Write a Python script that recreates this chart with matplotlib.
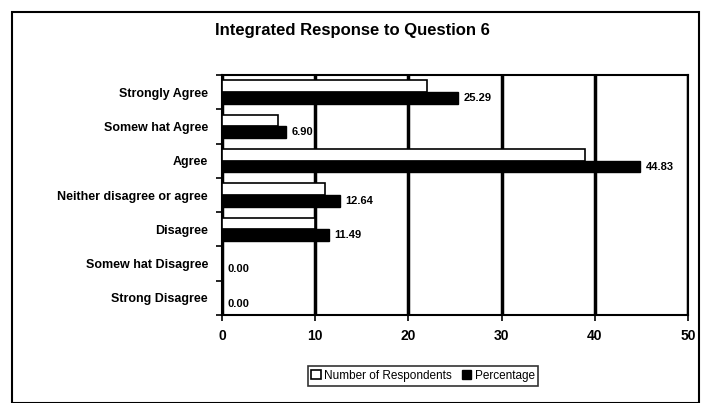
import matplotlib.pyplot as plt
import numpy as np
from matplotlib.patches import Rectangle

# Dados
categories = ['Strongly Agree', 'Somew hat Agree', 'Agree', 'Neither disagree or agree',
              'Disagree', 'Somew hat Disagree', 'Strong Disagree']
respondents = [22, 6, 39, 11, 10, 0, 0]
percentage = [25.29, 6.90, 44.83, 12.64, 11.49, 0.00, 0.00]
xticks = [0, 10, 20, 30, 40, 50]

plt.rcParams['font.family'] = ['Liberation Sans', 'DejaVu Sans']

fig = plt.figure(figsize=(7.03, 4.03), dpi=100)
ax = fig.add_axes([222 / 703, 1 - 315 / 403, 466 / 703, 240 / 403])

y = np.arange(len(categories))
h = 0.34
ax.barh(y - h / 2, respondents, height=h, color='white', edgecolor='black',
        linewidth=1.2, label='Number of Respondents', zorder=3)
bars = ax.barh(y + h / 2, percentage, height=h, color='black', edgecolor='black',
               label='Percentage', zorder=3)

# Rótulos de valor
for bar, v in zip(bars, percentage):
    ax.text(bar.get_width() + 0.6, bar.get_y() + bar.get_height() / 2, f'{v:.2f}',
            ha='left', va='center', fontsize=8, fontweight='bold', zorder=4)

ax.set_ylim(len(categories) - 0.5, -0.5)
ax.set_xlim(0, 50)
ax.set_xticks(xticks)
ax.set_xticklabels([str(t) for t in xticks], fontsize=10, fontweight='bold')
ax.set_yticks(y)
ax.set_yticklabels(categories, fontsize=9, fontweight='bold')
ax.set_yticks(np.arange(len(categories) + 1) - 0.5, minor=True)
ax.tick_params(axis='y', which='major', length=0, pad=10)
ax.tick_params(axis='y', which='minor', length=4, width=1.2, direction='out')
ax.tick_params(axis='x', length=4, width=1.2, direction='out', pad=6)

ax.grid(axis='x', color='black', linewidth=2.5, zorder=1)
ax.set_axisbelow(True)
for s in ax.spines.values():
    s.set_linewidth(1.5)

fig.text(352 / 703, 1 - 30 / 403, 'Integrated Response to Question 6', ha='center', va='center',
         fontsize=12, fontweight='bold')

leg = fig.legend(loc='center', bbox_to_anchor=(423 / 703, 1 - 376 / 403), ncol=2,
                 fontsize=8.5, frameon=True, fancybox=False, edgecolor='black',
                 handlelength=0.8, handleheight=0.8, handletextpad=0.3,
                 columnspacing=0.8, borderpad=0.3)
leg.get_frame().set_linewidth(1.2)

# Moldura da área do gráfico
fig.patches.append(Rectangle((12 / 703, 0), 687 / 703, 1 - 12 / 403, transform=fig.transFigure,
                             fill=False, edgecolor='black', linewidth=1.5))

plt.savefig('out.png', dpi=100)
